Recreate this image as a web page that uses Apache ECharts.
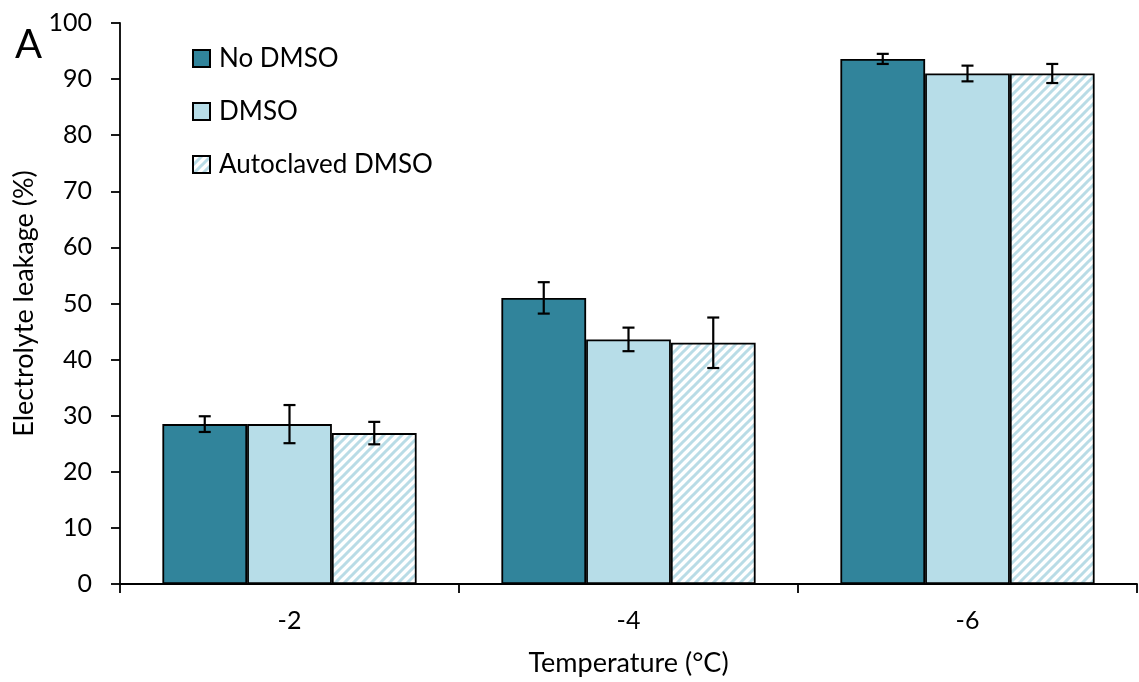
<!DOCTYPE html>
<html><head><meta charset="utf-8">
<script src="https://cdn.jsdelivr.net/npm/echarts@6/dist/echarts.min.js"></script>
<style>html,body{margin:0;padding:0;background:#fff}#c{width:1139px;height:682px}</style>
</head><body><div id="c"></div>
<script>
const categories = ['-2', '-4', '-6'];
const seriesNames = ['No DMSO', 'DMSO', 'Autoclaved DMSO'];
const noDmso = [28.5, 51.0, 93.6];
const noDmsoErr = [1.4, 2.8, 0.9];
const dmso = [28.5, 43.6, 91.0];
const dmsoErr = [3.4, 2.1, 1.4];
const autoDmso = [26.9, 43.0, 91.0];
const autoDmsoErr = [2.0, 4.5, 1.7];
const yTicks = [0, 10, 20, 30, 40, 50, 60, 70, 80, 90, 100];

const FONT = 'Lato';
function hatch() {
  const s = 9;
  const cv = document.createElement('canvas');
  cv.width = s; cv.height = s;
  const g = cv.getContext('2d');
  g.fillStyle = '#fff'; g.fillRect(0, 0, s, s);
  g.strokeStyle = '#B9DCE6'; g.lineWidth = 3;
  g.beginPath();
  g.moveTo(-2, s + 2); g.lineTo(s + 2, -2);
  g.moveTo(-2 - s, s + 2); g.lineTo(2, -2);
  g.moveTo(s - 2, s + 2); g.lineTo(s + 2 + s, -2);
  g.stroke();
  return cv;
}
const values = [noDmso, dmso, autoDmso];
const errs = [noDmsoErr, dmsoErr, autoDmsoErr];
const colors = ['#31849B', '#B7DDE8', { image: hatch(), repeat: 'repeat' }];

const chart = echarts.init(document.getElementById('c'), null, { renderer: 'canvas' });
const series = values.map((v, i) => ({
  name: seriesNames[i], type: 'bar', data: v,
  barGap: '0%', barCategoryGap: '25%',
  itemStyle: { color: colors[i], borderColor: '#000', borderWidth: 1.8 },
  z: 2
}));
values.forEach((v, i) => {
  series.push({
    type: 'custom', name: 'err' + i, silent: true, z: 5,
    data: v.map((val, k) => [k, val, errs[i][k]]),
    renderItem: function (params, api) {
      const k = api.value(0), val = api.value(1), e = api.value(2);
      const catW = api.size([1, 0])[0];
      const bw = catW * 0.75 / 3;
      const c = api.coord([k, val]);
      const x = c[0] + (i - 1) * bw;
      const top = api.coord([k, val + e])[1];
      const bot = api.coord([k, val - e])[1];
      const hw = 6;
      const st = { stroke: '#000', lineWidth: 2.2 };
      return { type: 'group', children: [
        { type: 'line', shape: { x1: x, y1: top, x2: x, y2: bot }, style: st },
        { type: 'line', shape: { x1: x - hw, y1: top, x2: x + hw, y2: top }, style: st },
        { type: 'line', shape: { x1: x - hw, y1: bot, x2: x + hw, y2: bot }, style: st }
      ]};
    }
  });
});

chart.setOption({
  animation: false,
  textStyle: { fontFamily: FONT },
  grid: { left: 120, right: 2, top: 23, bottom: 95, containLabel: false },
  title: { text: 'A', left: 10, top: 20, textStyle: { fontFamily: FONT, fontSize: 40, fontWeight: 'normal', color: '#000' } },
  legend: {
    data: seriesNames, orient: 'vertical', left: 187, top: 40, icon: 'rect',
    itemWidth: 17, itemHeight: 17, itemGap: 26,
    itemStyle: { borderColor: '#000', borderWidth: 2 },
    textStyle: { fontFamily: FONT, fontSize: 26, lineHeight: 27, color: '#000', padding: [0, 0, 0, 4] }
  },
  xAxis: {
    type: 'category', data: categories,
    name: 'Temperature (\u00B0C)', nameLocation: 'middle', nameGap: 66,
    nameTextStyle: { fontFamily: FONT, fontSize: 27, color: '#000' },
    axisLine: { lineStyle: { color: '#000', width: 1.8 } },
    axisTick: { show: true, length: 9, lineStyle: { color: '#000', width: 1.8 } },
    axisLabel: { fontFamily: FONT, fontSize: 25, color: '#000', margin: 24 }
  },
  yAxis: {
    type: 'value', min: yTicks[0], max: yTicks[yTicks.length - 1], interval: 10,
    name: 'Electrolyte leakage (%)', nameLocation: 'middle', nameGap: 74,
    nameTextStyle: { fontFamily: FONT, fontSize: 27, color: '#000' },
    axisLine: { show: true, lineStyle: { color: '#000', width: 1.8 } },
    axisTick: { show: true, length: 9, lineStyle: { color: '#000', width: 1.8 } },
    axisLabel: { fontFamily: FONT, fontSize: 25, color: '#000', margin: 28 },
    splitLine: { show: false }
  },
  series: series
});
</script></body></html>
